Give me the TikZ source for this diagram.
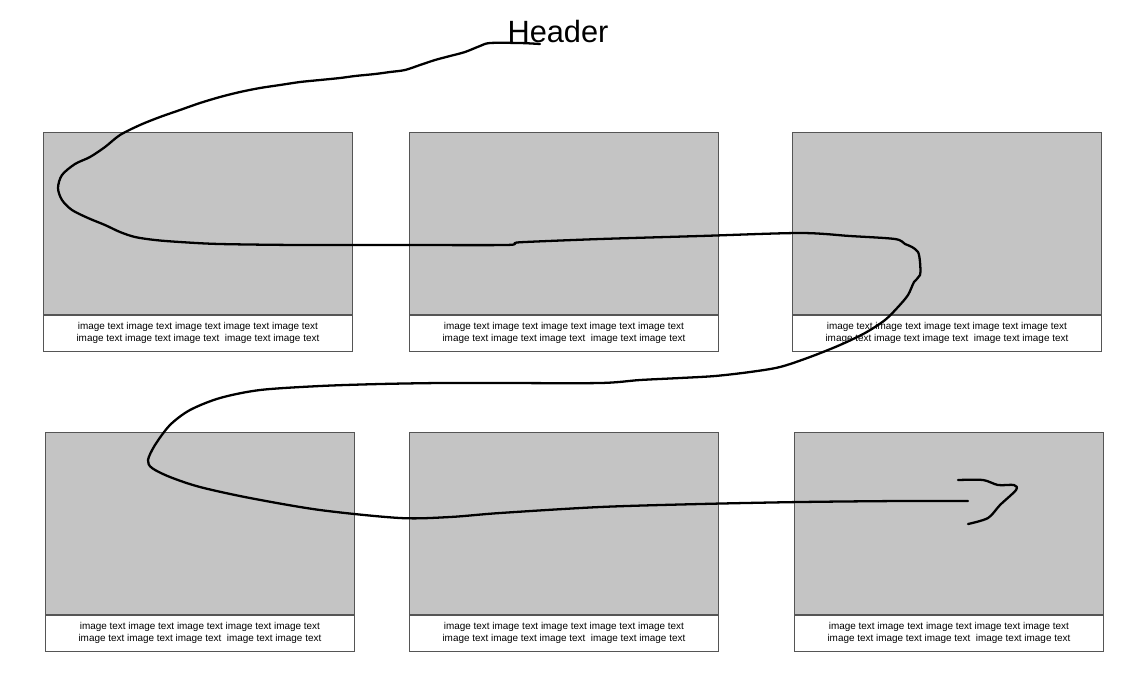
\documentclass[tikz,border=0pt]{standalone}
\usepackage{fontspec}
\setmainfont{Liberation Sans}
\definecolor{imggray}{HTML}{C4C4C4}
\definecolor{frame}{HTML}{555555}
\tikzset{
  img/.style={draw=frame, fill=imggray, line width=0.5pt, minimum width=6.18cm, minimum height=3.64cm, anchor=north west, inner sep=0pt},
  caption/.style={draw=frame, fill=white, line width=0.5pt, minimum width=6.18cm, minimum height=0.72cm, anchor=north, inner sep=0pt, align=center, font=\fontsize{5.65}{6.8}\selectfont},
  stroke/.style={line width=1.3pt, line cap=round, line join=round}
}
\newcommand{\captext}{image text image text image text image text image text\\image text image text image text\ \ image text image text}
\begin{document}
\begin{tikzpicture}[x=0.02cm, y=-0.02cm]
    \useasboundingbox (0,0) rectangle (1138,681);
    \node (header) at (558,32) {\fontsize{17.5}{20}\selectfont Header};
    %
    \node[img] (p1) at (43,132) {};
    \node[caption] (c1) at (p1.south) {\captext};
    \node[img] (p2) at (409,132) {};
    \node[caption] (c2) at (p2.south) {\captext};
    \node[img] (p3) at (792,132) {};
    \node[caption] (c3) at (p3.south) {\captext};
    \node[img] (p4) at (45,432) {};
    \node[caption] (c4) at (p4.south) {\captext};
    \node[img] (p5) at (409,432) {};
    \node[caption] (c5) at (p5.south) {\captext};
    \node[img] (p6) at (794,432) {};
    \node[caption] (c6) at (p6.south) {\captext};
    %
    \draw [stroke] plot [smooth, tension=0.5] coordinates {
      (540,44) (520,43) (490,43) (480,46) (465,52) (450,56) (435,60) (420,65)
      (405,70) (390,72) (375,74) (355,76) (340,78) (320,80) (300,82) (280,85)
      (260,88) (240,92) (220,97) (200,103) (180,110) (160,117) (140,125)
      (120,135) (105,147) (90,157) (75,164) (62,175) (58,188) (62,200)
      (72,210) (88,218) (105,225) (120,232) (135,237) (155,240) (180,242)
      (220,244) (300,245) (400,245) (505,245) (515,243) (525,242) (600,239)
      (700,236) (800,233) (850,236) (895,239) (905,244) (912,247) (918,252)
      (920,262) (920,275) (914,282) (908,295) (898,307) (885,320) (865,333)
      (840,345) (810,357) (780,367) (750,372) (715,376) (680,378) (640,380)
      (600,383) (500,383) (440,383) (380,384) (320,386) (260,390) (220,398)
      (190,410) (170,425) (155,445) (148,460) (152,468) (170,477) (200,487)
      (250,498) (320,510) (400,518) (450,517) (500,513) (600,507) (700,504)
      (800,502) (900,501) (968,501)};
    \draw [stroke] plot [smooth, tension=0.5] coordinates {
      (958,480) (983,480) (998,485) (1014,485) (1016,490) (1000,505)
      (988,518) (968,524)};
\end{tikzpicture}
\end{document}
